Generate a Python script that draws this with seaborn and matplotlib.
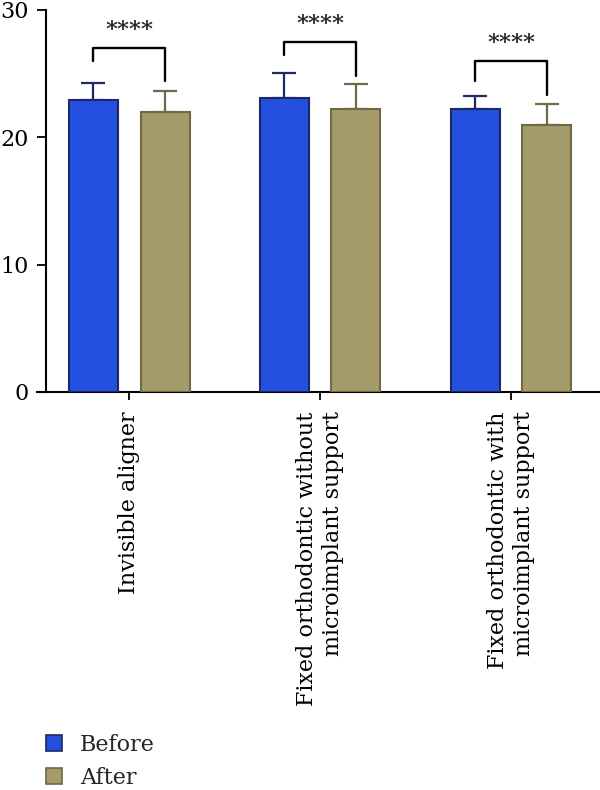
import numpy as np
import pandas as pd
import matplotlib
matplotlib.use("Agg")
import matplotlib.pyplot as plt
import seaborn as sns
from matplotlib.patches import Patch
from matplotlib.container import BarContainer

# ---------------- data ----------------
categories = [
    "Invisible aligner",
    "Fixed orthodontic without\nmicroimplant support",
    "Fixed orthodontic with\nmicroimplant support",
]
groups = ["Before", "After"]
before_mean = [22.9, 23.1, 22.2]
after_mean = [22.0, 22.2, 21.0]
before_sd = [1.35, 1.95, 1.05]
after_sd = [1.65, 1.95, 1.6]
sig_labels = ["****", "****", "****"]
bracket_top = [27.05, 27.5, 26.0]
bracket_left_end = [26.0, 26.45, 24.4]
bracket_right_end = [24.45, 24.8, 23.35]
y_ticks = [0, 10, 20, 30]

# ---------------- style ----------------
sns.set_theme(style="ticks")
plt.rcParams["font.family"] = ["DejaVu Serif"]

face_colors = ["#2350E1", "#A59B69"]
edge_colors = ["#1E2864", "#6E6946"]

df = pd.DataFrame({
    "category": categories * 2,
    "group": [g for g in groups for _ in categories],
    "value": before_mean + after_mean,
})
sds = [before_sd, after_sd]

W, H = 600, 790
fig = plt.figure(figsize=(W / 100, H / 100), dpi=100)
ax = fig.add_axes([36.7 / W, 1 - 392 / H, 1 - 36.7 / W, (392 - 10) / H])

sns.barplot(data=df, x="category", y="value", hue="group", order=categories,
            hue_order=groups, palette=face_colors, width=0.75, gap=0.315,
            errorbar=None, ax=ax, legend=False, linewidth=1.5, saturation=1)

bar_conts = [c for c in ax.containers if isinstance(c, BarContainer)]
bx = []
for i, cont in enumerate(bar_conts):
    xs, hs = [], []
    for bar in cont:
        bar.set_edgecolor(edge_colors[i])
        bar.set_linewidth(1.5)
        bar.set_zorder(3)
        xs.append(bar.get_x() + bar.get_width() / 2)
        hs.append(bar.get_height())
    bx.append(xs)
    ax.errorbar(xs, hs, yerr=[np.zeros(len(hs)), sds[i]], fmt="none",
                ecolor=edge_colors[i], elinewidth=1.6, capsize=8.3,
                capthick=1.6, zorder=2)

# brackets
for j in range(len(categories)):
    x1, x2 = bx[0][j], bx[1][j]
    ax.plot([x1, x1, x2, x2],
            [bracket_left_end[j], bracket_top[j], bracket_top[j], bracket_right_end[j]],
            color="black", lw=1.7, clip_on=False, zorder=4)
    ax.annotate(sig_labels[j], xy=((x1 + x2) / 2, bracket_top[j]),
                xytext=(0, 8.5), textcoords="offset points", ha="center",
                va="baseline", fontsize=16.5, fontweight="bold", annotation_clip=False)

ax.set_xlim(-0.4848, 2.466)
ax.set_ylim(0, 30)
ax.set_yticks(y_ticks)
ax.set_xlabel("")
ax.set_ylabel("")
for s in ["top", "right"]:
    ax.spines[s].set_visible(False)
ax.spines["left"].set_position(("data", -0.4375))
for s in ["left", "bottom"]:
    ax.spines[s].set_linewidth(1.5)
    ax.spines[s].set_color("black")
ax.tick_params(axis="y", length=6.5, width=1.3, pad=6, labelsize=16, colors="black")
ax.tick_params(axis="x", length=6, width=1.3, pad=8, colors="black")
ax.set_xticks(range(len(categories)))
ax.set_xticklabels(categories, rotation=90, ha="center", va="top",
                   multialignment="right", fontsize=16, linespacing=1.25)

handles = [Patch(facecolor=face_colors[i], edgecolor=edge_colors[i], linewidth=1.2)
           for i in range(2)]
fig.legend(handles, groups, loc="upper left", bbox_to_anchor=(46 / W, 1 - 734 / H),
           frameon=False, handlelength=0.72, handleheight=0.72, handletextpad=0.8,
           labelspacing=0.5, borderpad=0, borderaxespad=0, fontsize=16)

fig.savefig("out.png", dpi=100)
